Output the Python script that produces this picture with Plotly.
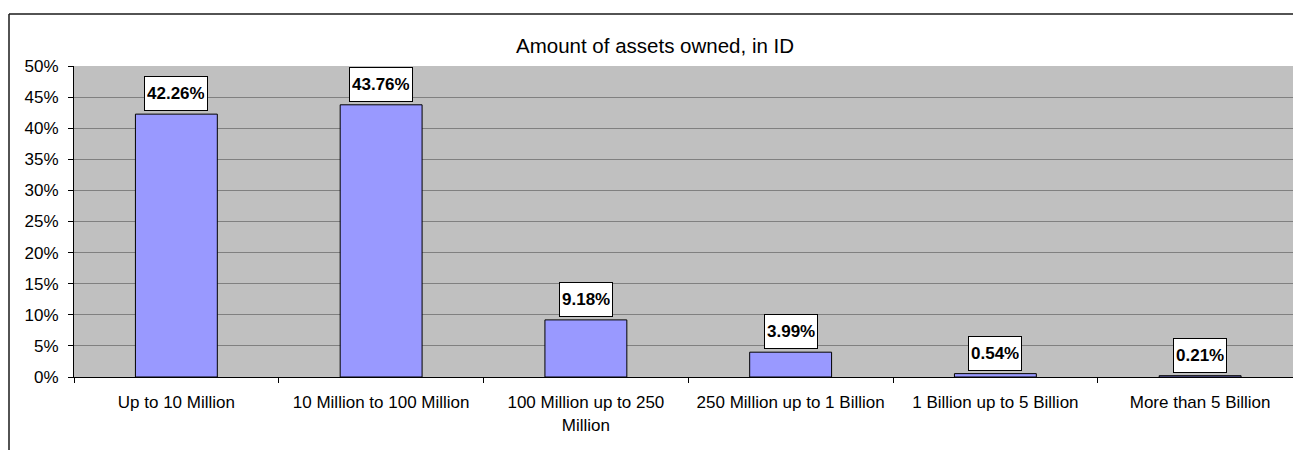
import plotly.graph_objects as go

# Share of entities by amount of assets owned
categories = [
    "Up to 10 Million",
    "10 Million to 100 Million",
    "100 Million up to 250<br>Million",
    "250 Million up to 1 Billion",
    "1 Billion up to 5 Billion",
    "More than 5 Billion",
]
shares = [42.26, 43.76, 9.18, 3.99, 0.54, 0.21]
y_ticks = [0, 5, 10, 15, 20, 25, 30, 35, 40, 45, 50]

FONT = "Liberation Sans, Arial, sans-serif"
W, H = 1293, 450
M_L, M_T, M_B = 74, 66, 73

fig = go.Figure()
fig.add_trace(go.Bar(
    x=categories,
    y=shares,
    width=0.4,
    marker=dict(color="#9999FF", line=dict(color="#000000", width=1)),
    hoverinfo="skip",
))

# value labels in white boxes above each bar
for cat, val in zip(categories, shares):
    fig.add_annotation(
        x=cat, y=val, xref="x", yref="y",
        text=f"<b>{val:.2f}%</b>",
        showarrow=False, yanchor="bottom", yshift=3,
        bgcolor="#FFFFFF", bordercolor="#000000", borderwidth=1,
        borderpad=2, height=29,
        font=dict(family=FONT, size=17, color="#000000"),
    )

plot_w = W - M_L
plot_h = H - M_T - M_B


def px_x(px):
    return (px - M_L) / plot_w


def px_y(py):
    return (H - M_B - py) / plot_h


# chart title
fig.add_annotation(
    x=px_x(655), y=px_y(46), xref="paper", yref="paper",
    text="Amount of assets owned, in ID", showarrow=False,
    xanchor="center", yanchor="middle",
    font=dict(family=FONT, size=20.5, color="#000000"),
)

# outer chart frame (left and top edges)
frame = dict(color="#1a1a1a", width=1.5)
fig.add_shape(type="line", xref="paper", yref="paper",
              x0=px_x(9), x1=px_x(1300), y0=px_y(14), y1=px_y(14), line=frame)
fig.add_shape(type="line", xref="paper", yref="paper",
              x0=px_x(9), x1=px_x(9), y0=px_y(14), y1=px_y(460), line=frame)

fig.update_layout(
    width=W, height=H,
    margin=dict(l=M_L, r=0, t=M_T, b=M_B, pad=0),
    paper_bgcolor="#FFFFFF",
    plot_bgcolor="#C0C0C0",
    showlegend=False,
    bargap=0.6,
    font=dict(family=FONT, size=17, color="#000000"),
)
fig.update_xaxes(
    type="category",
    range=[-0.5, 5.5 - (1302.5 - W) / 204.75],
    tickson="boundaries", ticks="outside", ticklen=5, tickcolor="#000000",
    showgrid=False, showline=True, linecolor="#000000", linewidth=1,
    ticklabelstandoff=10,
    tickfont=dict(family=FONT, size=17, color="#000000"),
    fixedrange=True,
)
fig.update_yaxes(
    range=[0, 50], tickvals=y_ticks, ticktext=[f"{v}%" for v in y_ticks],
    ticks="outside", ticklen=5, tickcolor="#000000",
    showgrid=True, gridcolor="#808080", gridwidth=1,
    showline=True, linecolor="#000000", linewidth=1,
    zeroline=False, ticklabelstandoff=6,
    tickfont=dict(family=FONT, size=17, color="#000000"),
    fixedrange=True,
)

fig.write_html("out.html")
